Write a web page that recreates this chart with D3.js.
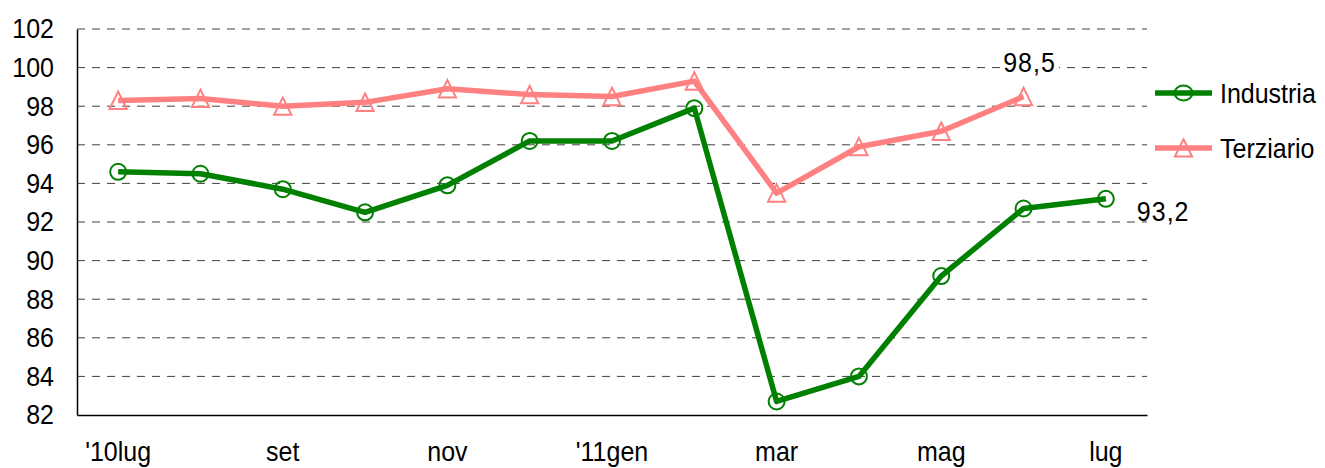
<!DOCTYPE html>
<html>
<head>
<meta charset="utf-8">
<script src="https://cdn.jsdelivr.net/npm/d3@7"></script>
<style>
  body { margin: 0; background: #fff; }
  svg text {
    font-family: "Liberation Sans", Arial, sans-serif; fill: #000;
    transform-box: fill-box; transform-origin: center; transform: scaleY(1.1);
  }
</style>
</head>
<body>
<svg id="chart" width="1325" height="468"></svg>
<script>
// dati
var mesi = ["'10lug", "ago", "set", "ott", "nov", "dic", "'11gen", "feb", "mar", "apr", "mag", "giu", "lug"];
var industria = [94.6, 94.5, 93.7, 92.5, 93.9, 96.2, 96.2, 97.9, 82.7, 84.0, 89.2, 92.7, 93.2];
var terziario = [98.3, 98.4, 98.0, 98.2, 98.9, 98.6, 98.5, 99.3, 93.5, 95.9, 96.7, 98.5];
var yTicks = [82, 84, 86, 88, 90, 92, 94, 96, 98, 100, 102];
var etichetteX = ["'10lug", "set", "nov", "'11gen", "mar", "mag", "lug"];

var svg = d3.select("#chart");
var mLeft = 77, mRight = 1147, mTop = 29, mBottom = 415;
var fs = "25px";

var x = d3.scaleBand().domain(mesi).range([mLeft, mRight]);
var y = d3.scaleLinear().domain([82, 102]).range([mBottom, mTop]);
var cx = function(i) { return x(mesi[i]) + x.bandwidth() / 2; };

// griglia tratteggiata
svg.append("g").selectAll("line")
    .data(yTicks.slice(1))
    .enter().append("line")
    .attr("x1", mLeft).attr("x2", mRight)
    .attr("y1", d => y(d)).attr("y2", d => y(d))
    .attr("stroke", "#404040")
    .attr("stroke-width", 1)
    .attr("stroke-dasharray", "8,7");

// assi
var ay = svg.append("g")
    .attr("transform", "translate(" + mLeft + ",0)")
    .call(d3.axisLeft(y).tickValues(yTicks).tickSize(0).tickSizeOuter(0).tickPadding(23));
ay.select(".domain").attr("stroke", "#000").attr("stroke-width", 1.5);
ay.selectAll("text").style("font-size", fs);

var ax = svg.append("g")
    .attr("transform", "translate(0," + mBottom + ")")
    .call(d3.axisBottom(x).tickValues(etichetteX).tickSize(0).tickSizeOuter(0).tickPadding(27));
ax.select(".domain").attr("stroke", "#000").attr("stroke-width", 1.5);
ax.selectAll("text").style("font-size", fs);

var line = d3.line()
    .x((d, i) => cx(i))
    .y(d => y(d));

var triangolo = "M0,-8.8L8.6,8.6L-8.6,8.6Z";

// Terziario
svg.append("path")
    .datum(terziario)
    .attr("d", line)
    .attr("fill", "none")
    .attr("stroke", "#ff8080")
    .attr("stroke-width", 5.5)
    .attr("stroke-linejoin", "round");

svg.append("g").selectAll("path")
    .data(terziario)
    .enter().append("path")
    .attr("d", triangolo)
    .attr("transform", (d, i) => "translate(" + cx(i) + "," + y(d) + ")")
    .attr("fill", "none")
    .attr("stroke", "#ff8080")
    .attr("stroke-width", 2);

// Industria
svg.append("path")
    .datum(industria)
    .attr("d", line)
    .attr("fill", "none")
    .attr("stroke", "#008000")
    .attr("stroke-width", 5.5)
    .attr("stroke-linejoin", "round");

svg.append("g").selectAll("circle")
    .data(industria)
    .enter().append("circle")
    .attr("cx", (d, i) => cx(i))
    .attr("cy", d => y(d))
    .attr("r", 8)
    .attr("fill", "none")
    .attr("stroke", "#008000")
    .attr("stroke-width", 2);

// etichette ultimo valore
var lt = terziario.length - 1, li = industria.length - 1;
var sfondo = svg.append("rect").attr("fill", "#fff");
var lab1 = svg.append("text")
    .attr("x", cx(lt) + 6)
    .attr("y", y(terziario[lt]) - 25)
    .attr("text-anchor", "middle")
    .attr("letter-spacing", "1px")
    .style("font-size", fs)
    .text(String(terziario[lt]).replace(".", ","));
var bb = lab1.node().getBBox();
sfondo.attr("x", bb.x - 3).attr("y", bb.y).attr("width", bb.width + 6).attr("height", bb.height);

svg.append("text")
    .attr("x", cx(li) + 31)
    .attr("y", y(industria[li]) + 21)
    .attr("letter-spacing", "1px")
    .style("font-size", fs)
    .text(String(industria[li]).replace(".", ","));

// legenda
var legenda = [
    { nome: "Industria", colore: "#008000", tipo: "cerchio", y: 93 },
    { nome: "Terziario", colore: "#ff8080", tipo: "triangolo", y: 148 }
];
var lg = svg.append("g").selectAll("g")
    .data(legenda)
    .enter().append("g")
    .attr("transform", d => "translate(1155," + d.y + ")");
lg.append("line")
    .attr("x1", 0).attr("x2", 57)
    .attr("stroke", d => d.colore)
    .attr("stroke-width", 5.5);
lg.filter(d => d.tipo === "cerchio").append("ellipse")
    .attr("cx", 28.5).attr("rx", 9).attr("ry", 7.5)
    .attr("fill", "none").attr("stroke", d => d.colore).attr("stroke-width", 2);
lg.filter(d => d.tipo === "triangolo").append("path")
    .attr("d", triangolo)
    .attr("transform", "translate(28.5,0)")
    .attr("fill", "none").attr("stroke", d => d.colore).attr("stroke-width", 2);
lg.append("text")
    .attr("x", 65)
    .attr("dy", "0.36em")
    .style("font-size", fs)
    .text(d => d.nome);
</script>
</body>
</html>
